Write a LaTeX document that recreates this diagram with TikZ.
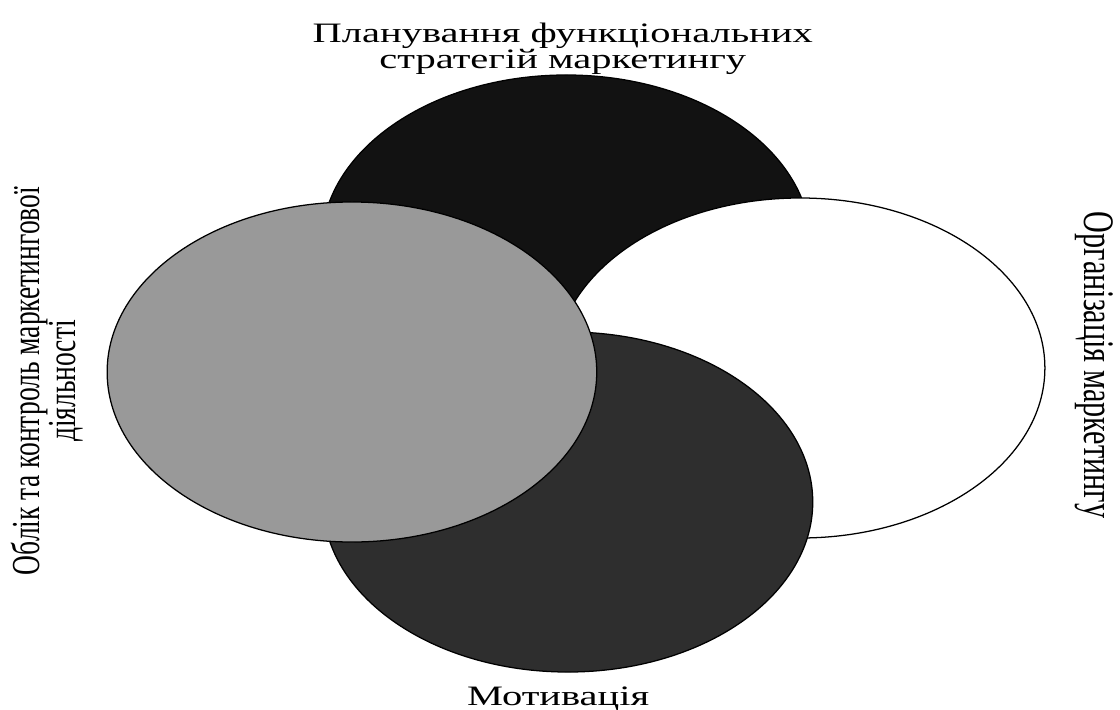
\documentclass[tikz,border=0pt]{standalone}
\usepackage{fontspec}
\setmainfont{Liberation Serif}
\definecolor{planfill}{gray}{0.07}
\definecolor{motivfill}{gray}{0.18}
\definecolor{controlfill}{gray}{0.6}
\newcommand{\tightlines}{\lineskiplimit -20pt\relax}
\tikzset{
  sector/.style={draw=black,line width=0.9pt},
  areatext/.style={transform shape,inner sep=0pt,font={\fontsize{20}{18.2}\selectfont\tightlines}}
}
\begin{document}
\begin{tikzpicture}[xscale=1.44]
        \useasboundingbox (0,0) rectangle (19.444,17.725);
        % Circles
        \draw[sector,fill=planfill] (9.83,11.6) circle (4.25);
        \draw[sector,fill=white] (13.89,8.525) circle (4.25);
        \draw[sector,fill=motivfill] (9.86,5.175) circle (4.25);
        \draw[sector,fill=controlfill] (6.11,8.425) circle (4.25);
        % Labels
        \node[areatext,align=center] (plan) at (9.77,16.5) {Планування функціональних\\стратегій маркетингу};
        \node[areatext,anchor=base] (motiv) at (9.69,0.1) {Мотивація};
        \node[areatext,align=center,rotate=90,font={\fontsize{19.6}{17.5}\selectfont\tightlines}] (control) at (0.82,8.2) {Облік та контроль маркетингової\\діяльності};
        \node[areatext,rotate=-90,anchor=base,font={\fontsize{21.5}{16}\selectfont}] (org) at (18.83,8.6) {Організація маркетингу};
    \end{tikzpicture}
\end{document}
